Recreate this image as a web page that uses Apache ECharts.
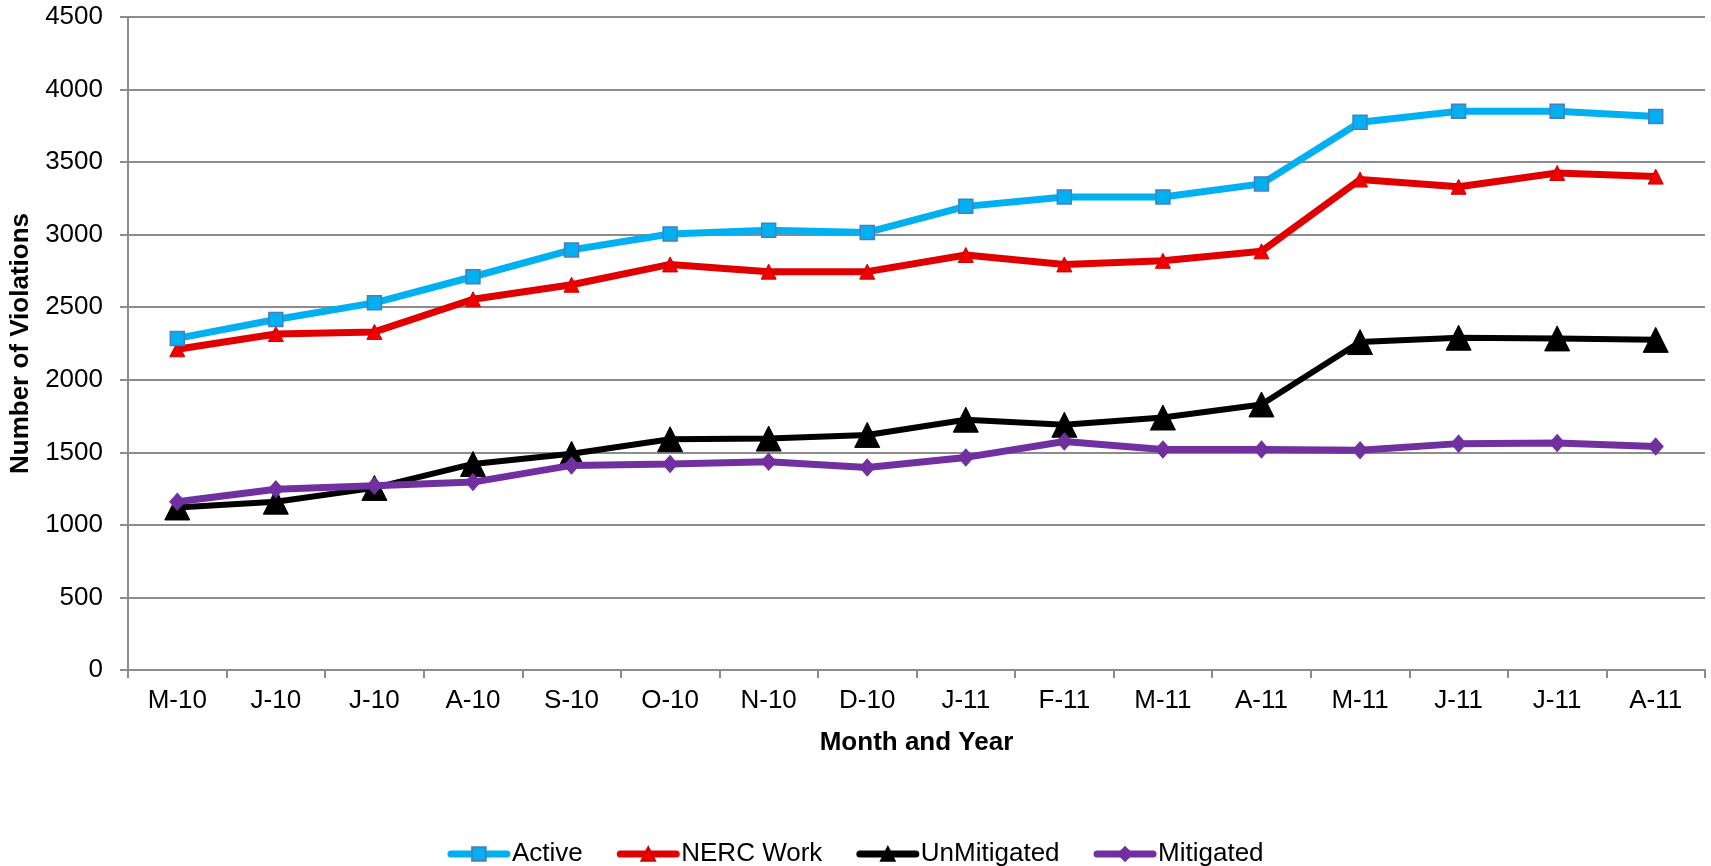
<!DOCTYPE html>
<html>
<head>
<meta charset="utf-8">
<script src="https://cdn.jsdelivr.net/npm/echarts@6/dist/echarts.min.js"></script>
<style>
html,body{margin:0;padding:0;background:#fff;}
#chart{width:1711px;height:866px;}
</style>
</head>
<body>
<div id="chart"></div>
<script>
const categories = ['M-10','J-10','J-10','A-10','S-10','O-10','N-10','D-10','J-11','F-11','M-11','A-11','M-11','J-11','J-11','A-11'];
const activeValues = [2285, 2415, 2530, 2710, 2895, 3005, 3030, 3015, 3195, 3260, 3260, 3350, 3775, 3850, 3850, 3815];
const nercWorkValues = [2210, 2315, 2330, 2555, 2655, 2795, 2745, 2745, 2860, 2795, 2820, 2885, 3380, 3330, 3425, 3400];
const unMitigatedValues = [1120, 1160, 1255, 1420, 1490, 1590, 1595, 1620, 1725, 1690, 1740, 1830, 2260, 2290, 2285, 2275];
const mitigatedValues = [1160, 1245, 1270, 1295, 1410, 1420, 1435, 1395, 1465, 1575, 1520, 1520, 1515, 1560, 1565, 1540];
const yTicks = {min: 0, max: 4500, interval: 500};

const FONT = '"Liberation Sans", Arial, sans-serif';
const chart = echarts.init(document.getElementById('chart'));
chart.setOption({
  backgroundColor: '#ffffff',
  animation: false,
  textStyle: {fontFamily: FONT},
  grid: {left: 128, right: 6, top: 17, bottom: 196, containLabel: false},
  legend: {
    top: 836, left: 'center',
    itemWidth: 56, itemHeight: 17, itemGap: 34,
    lineStyle: {width: 7, cap: 'round'},
    textStyle: {fontFamily: FONT, fontSize: 26, color: '#000'},
    data: ['Active', 'NERC Work', 'UnMitigated', 'Mitigated']
  },
  xAxis: {
    type: 'category',
    data: categories,
    boundaryGap: true,
    name: 'Month and Year',
    nameLocation: 'middle',
    nameGap: 60,
    nameTextStyle: {fontFamily: FONT, fontSize: 26, fontWeight: 'bold', color: '#000'},
    axisLine: {lineStyle: {color: '#8c8c8c', width: 2}},
    axisTick: {show: true, length: 8, inside: false, lineStyle: {color: '#8c8c8c', width: 2}},
    axisLabel: {fontFamily: FONT, fontSize: 26, color: '#000', margin: 18, interval: 0},
    splitLine: {show: false}
  },
  yAxis: {
    type: 'value',
    min: yTicks.min, max: yTicks.max, interval: yTicks.interval,
    name: 'Number of Violations',
    nameLocation: 'middle',
    nameGap: 88,
    nameRotate: 90,
    nameTextStyle: {fontFamily: FONT, fontSize: 26, fontWeight: 'bold', color: '#000'},
    axisLine: {show: true, lineStyle: {color: '#8c8c8c', width: 2}},
    axisTick: {show: true, length: 8, lineStyle: {color: '#8c8c8c', width: 2}},
    axisLabel: {fontFamily: FONT, fontSize: 26, color: '#000', margin: 25, formatter: function (v) { return String(v); }},
    splitLine: {show: true, lineStyle: {color: '#8c8c8c', width: 2}}
  },
  series: [
    {
      name: 'Active', type: 'line', data: activeValues,
      symbol: 'rect', symbolSize: 14,
      lineStyle: {color: '#00B0F0', width: 7},
      itemStyle: {color: '#00B0F0', borderColor: '#4A7EBB', borderWidth: 1.5},
      z: 4
    },
    {
      name: 'NERC Work', type: 'line', data: nercWorkValues,
      symbol: 'triangle', symbolSize: 15,
      lineStyle: {color: '#E00000', width: 7},
      itemStyle: {color: '#F00000', borderColor: '#D00000', borderWidth: 1},
      z: 3
    },
    {
      name: 'UnMitigated', type: 'line', data: unMitigatedValues,
      symbol: 'triangle', symbolSize: 25,
      lineStyle: {color: '#000000', width: 6},
      itemStyle: {color: '#000000', borderColor: '#000000', borderWidth: 1},
      z: 2
    },
    {
      name: 'Mitigated', type: 'line', data: mitigatedValues,
      symbol: 'diamond', symbolSize: [15, 17],
      lineStyle: {color: '#7030A0', width: 7},
      itemStyle: {color: '#7030A0', borderColor: '#7030A0', borderWidth: 1},
      z: 5
    }
  ]
});
</script>
</body>
</html>
